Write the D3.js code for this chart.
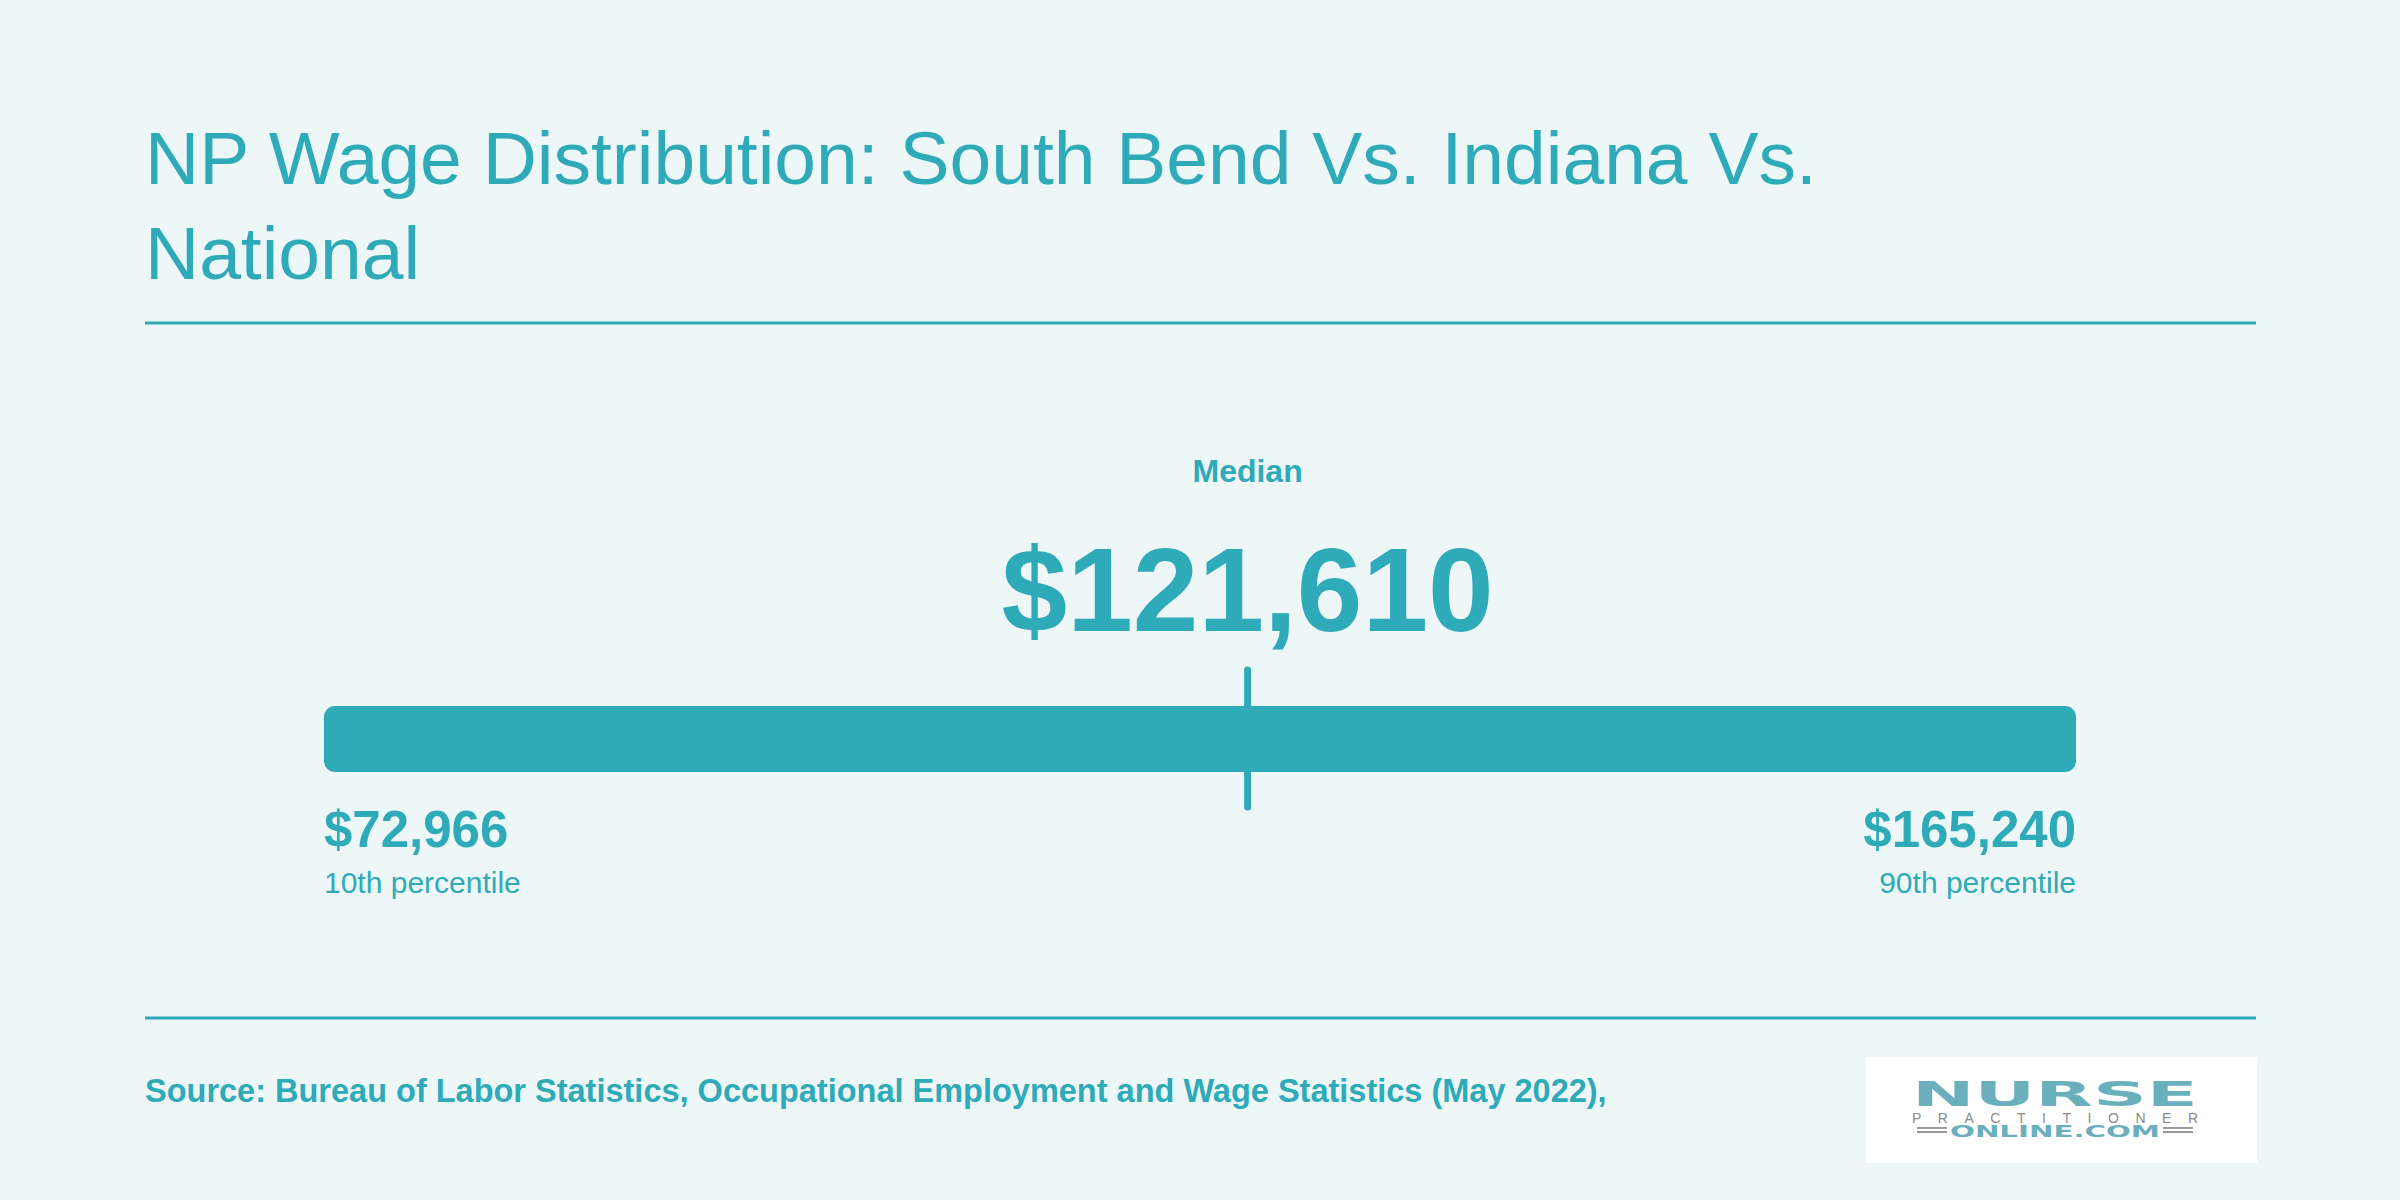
<!DOCTYPE html>
<html>
<head>
<meta charset="utf-8">
<script src="https://cdn.jsdelivr.net/npm/d3@7"></script>
<style>
  html, body { margin: 0; padding: 0; background: #eef7f8; }
  svg { display: block; }
</style>
</head>
<body>
<div id="chart"></div>
<script>
const width = 2400;
const height = 1200;
const teal = "#2eaab8";
const font = "'Liberation Sans', Arial, Helvetica, sans-serif";

// data
const titleLines = ["NP Wage Distribution: South Bend Vs. Indiana Vs.", "National"];
const percentileLabels = ["10th percentile", "Median", "90th percentile"];
const wageValues = [72966, 121610, 165240];
const sourceText = "Source: Bureau of Labor Statistics, Occupational Employment and Wage Statistics (May 2022),";

const fmt = d3.format("$,");

const svg = d3.select("#chart").append("svg")
  .attr("width", width).attr("height", height)
  .style("background", "#eef7f8")
  .style("font-family", font);

// title
svg.append("g").selectAll("text")
  .data(titleLines)
  .join("text")
  .attr("x", 145)
  .attr("y", (d, i) => 184 + i * 95)
  .attr("fill", teal)
  .attr("font-size", 75)
  .text(d => d);

// rules
svg.selectAll("line.rule")
  .data([323, 1018])
  .join("line")
  .attr("class", "rule")
  .attr("x1", 145).attr("x2", 2256)
  .attr("y1", d => d).attr("y2", d => d)
  .attr("stroke", teal).attr("stroke-width", 3);

// wage bar, scaled from 10th to 90th percentile
const x = d3.scaleLinear()
  .domain([wageValues[0], wageValues[2]])
  .range([324, 2076]);

const barTop = 706, barH = 66;

svg.append("rect")
  .attr("x", x(wageValues[0]))
  .attr("y", barTop)
  .attr("width", x(wageValues[2]) - x(wageValues[0]))
  .attr("height", barH)
  .attr("rx", 11)
  .attr("fill", teal);

// median marker
svg.append("line")
  .attr("x1", x(wageValues[1])).attr("x2", x(wageValues[1]))
  .attr("y1", 670).attr("y2", 807)
  .attr("stroke", teal)
  .attr("stroke-width", 7)
  .attr("stroke-linecap", "round");

svg.append("text")
  .attr("x", x(wageValues[1]))
  .attr("y", 482)
  .attr("text-anchor", "middle")
  .attr("fill", teal)
  .attr("font-size", 32)
  .attr("font-weight", "bold")
  .text(percentileLabels[1]);

svg.append("text")
  .attr("x", x(wageValues[1]))
  .attr("y", 631)
  .attr("text-anchor", "middle")
  .attr("fill", teal)
  .attr("font-size", 118)
  .attr("font-weight", "bold")
  .text(fmt(wageValues[1]));

// end labels
const ends = [
  { v: wageValues[0], label: percentileLabels[0], anchor: "start" },
  { v: wageValues[2], label: percentileLabels[2], anchor: "end" }
];
const endG = svg.append("g").selectAll("g")
  .data(ends)
  .join("g")
  .attr("transform", d => `translate(${x(d.v)},0)`);

endG.append("text")
  .attr("y", 847)
  .attr("text-anchor", d => d.anchor)
  .attr("fill", teal)
  .attr("font-size", 51)
  .attr("font-weight", "bold")
  .text(d => fmt(d.v));

endG.append("text")
  .attr("y", 893)
  .attr("text-anchor", d => d.anchor)
  .attr("fill", teal)
  .attr("font-size", 30)
  .text(d => d.label);

// source
svg.append("text")
  .attr("x", 145)
  .attr("y", 1102)
  .attr("fill", teal)
  .attr("font-size", 32.5)
  .attr("font-weight", "bold")
  .text(sourceText);

// logo
const logo = svg.append("g").attr("transform", "translate(1866,1057)");
logo.append("rect").attr("width", 391).attr("height", 106).attr("fill", "#ffffff");
logo.append("text")
  .attr("x", 46).attr("y", 49)
  .attr("fill", "#6aafbc")
  .attr("font-size", 34)
  .attr("font-weight", "900")
  .attr("font-family", "'DejaVu Sans', sans-serif")
  .attr("textLength", 286)
  .attr("lengthAdjust", "spacingAndGlyphs")
  .text("NURSE");
logo.append("text")
  .attr("x", 46).attr("y", 66)
  .attr("fill", "#8a8a8a")
  .attr("font-size", 14)
  .attr("textLength", 286)
  .attr("lengthAdjust", "spacing")
  .text("PRACTITIONER");
logo.append("text")
  .attr("x", 84).attr("y", 80)
  .attr("fill", "#6aafbc")
  .attr("font-size", 16)
  .attr("font-weight", "bold")
  .attr("font-family", "'DejaVu Sans', sans-serif")
  .attr("textLength", 210)
  .attr("lengthAdjust", "spacingAndGlyphs")
  .text("ONLINE.COM");
[[51, 81], [297, 327]].forEach(([a, b]) => {
  [71, 75].forEach(y => {
    logo.append("line")
      .attr("x1", a).attr("x2", b)
      .attr("y1", y).attr("y2", y)
      .attr("stroke", "#9a9a9a").attr("stroke-width", 2);
  });
});
</script>
</body>
</html>
